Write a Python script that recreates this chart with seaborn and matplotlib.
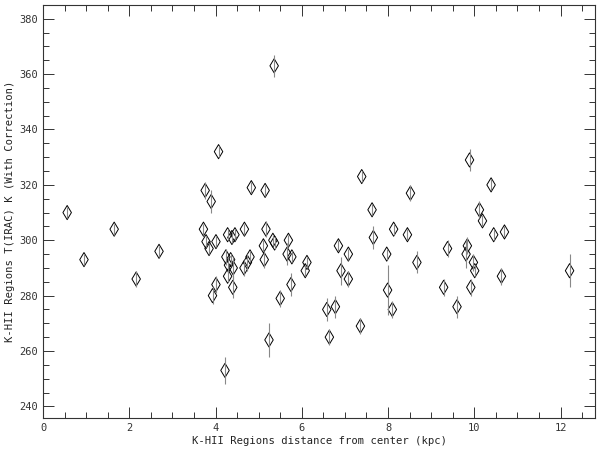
import numpy as np
import pandas as pd
import matplotlib
matplotlib.use("Agg")
import matplotlib.pyplot as plt
from matplotlib.ticker import MultipleLocator
import seaborn as sns

# odleglosc od centrum (kpc)
dist_kpc = [0.56, 0.95, 1.65, 2.16, 2.69, 3.72, 3.76, 3.78, 3.85, 3.90,
            3.93, 4.01, 4.01, 4.07, 4.22, 4.24, 4.28, 4.28, 4.30, 4.35,
            4.38, 4.40, 4.41, 4.45, 4.66, 4.67, 4.74, 4.80, 4.83, 5.11,
            5.13, 5.15, 5.17, 5.24, 5.33, 5.37, 5.36, 5.50, 5.66, 5.69,
            5.77, 5.75, 6.08, 6.12, 6.58, 6.64, 6.78, 6.85, 6.91, 7.08,
            7.08, 7.36, 7.39, 7.63, 7.66, 7.97, 7.99, 8.10, 8.13, 8.45,
            8.52, 8.67, 9.29, 9.38, 9.60, 9.81, 9.84, 9.89, 9.92, 9.98,
            10.01, 10.12, 10.19, 10.39, 10.45, 10.63, 10.70, 12.21]

# temperatura T(IRAC) w K
temp_k = [310, 293, 304, 286, 296, 304, 318, 299.5, 297, 314,
          280, 299.5, 284, 332, 253, 294, 302, 287, 291, 293,
          301, 283, 290, 302, 290, 304, 292, 294, 319, 298,
          293, 318, 304, 264, 300, 299, 363, 279, 295, 300,
          294, 284, 289, 292, 275, 265, 276, 298, 289, 295,
          286, 269, 323, 311, 301, 295, 282, 275, 304, 302,
          317, 292, 283, 297, 276, 295, 298, 329, 283, 292,
          289, 311, 307, 320, 302, 287, 303, 289]

# niepewnosci
temp_err = [2, 2, 2, 3, 2, 2, 3, 2, 2, 4,
            3, 2, 3, 2, 5, 3, 2, 2, 3, 2,
            2, 4, 4, 2, 3, 2, 3, 2, 2, 2,
            3, 2, 3, 6, 2, 2, 4, 3, 4, 2,
            2, 4, 2, 2, 4, 3, 4, 2, 5, 2,
            3, 3, 2, 2, 4, 2, 9, 3, 2, 2,
            3, 4, 3, 3, 4, 5, 3, 4, 3, 3,
            2, 3, 2, 2, 2, 3, 2, 6]

df = pd.DataFrame({"dist": dist_kpc, "T": temp_k, "err": temp_err})

sns.set_style("ticks")
plt.rcParams["font.family"] = ["DejaVu Sans Mono", "DejaVu Sans"]

fig = plt.figure(figsize=(6, 4.5), dpi=100)
ax = fig.add_axes([0.0717, 0.0711, 0.92, 0.918])

# slupki bledow (widoczne przez romby)
ax.errorbar(df["dist"], df["T"], yerr=df["err"], fmt="none",
            ecolor="#888888", elinewidth=0.8, capsize=0, zorder=3)

# punkty - puste romby
sns.scatterplot(data=df, x="dist", y="T", ax=ax, marker="d", s=52,
                facecolor="none", edgecolor="black", linewidth=0.7,
                zorder=2)

ax.set_xlim(0, 12.8)
ax.set_ylim(235.8, 385)
ax.xaxis.set_major_locator(MultipleLocator(2))
ax.xaxis.set_minor_locator(MultipleLocator(0.5))
ax.yaxis.set_major_locator(MultipleLocator(20))
ax.yaxis.set_minor_locator(MultipleLocator(5))
ax.tick_params(which="both", direction="in", top=True, right=True,
               labelsize=7.5, width=0.7, color="#333333", labelcolor="#333333")
ax.tick_params(which="major", length=8)
ax.tick_params(which="minor", length=4)
for sp in ax.spines.values():
    sp.set_linewidth(0.8)
    sp.set_color("#333333")

ax.set_xlabel("K-HII Regions distance from center (kpc)", fontsize=7.6,
              labelpad=2, color="#222222")
ax.set_ylabel("K-HII Regions T(IRAC) K (With Correction)", fontsize=7.6,
              labelpad=3, color="#222222")

fig.savefig("out.png", dpi=100)
